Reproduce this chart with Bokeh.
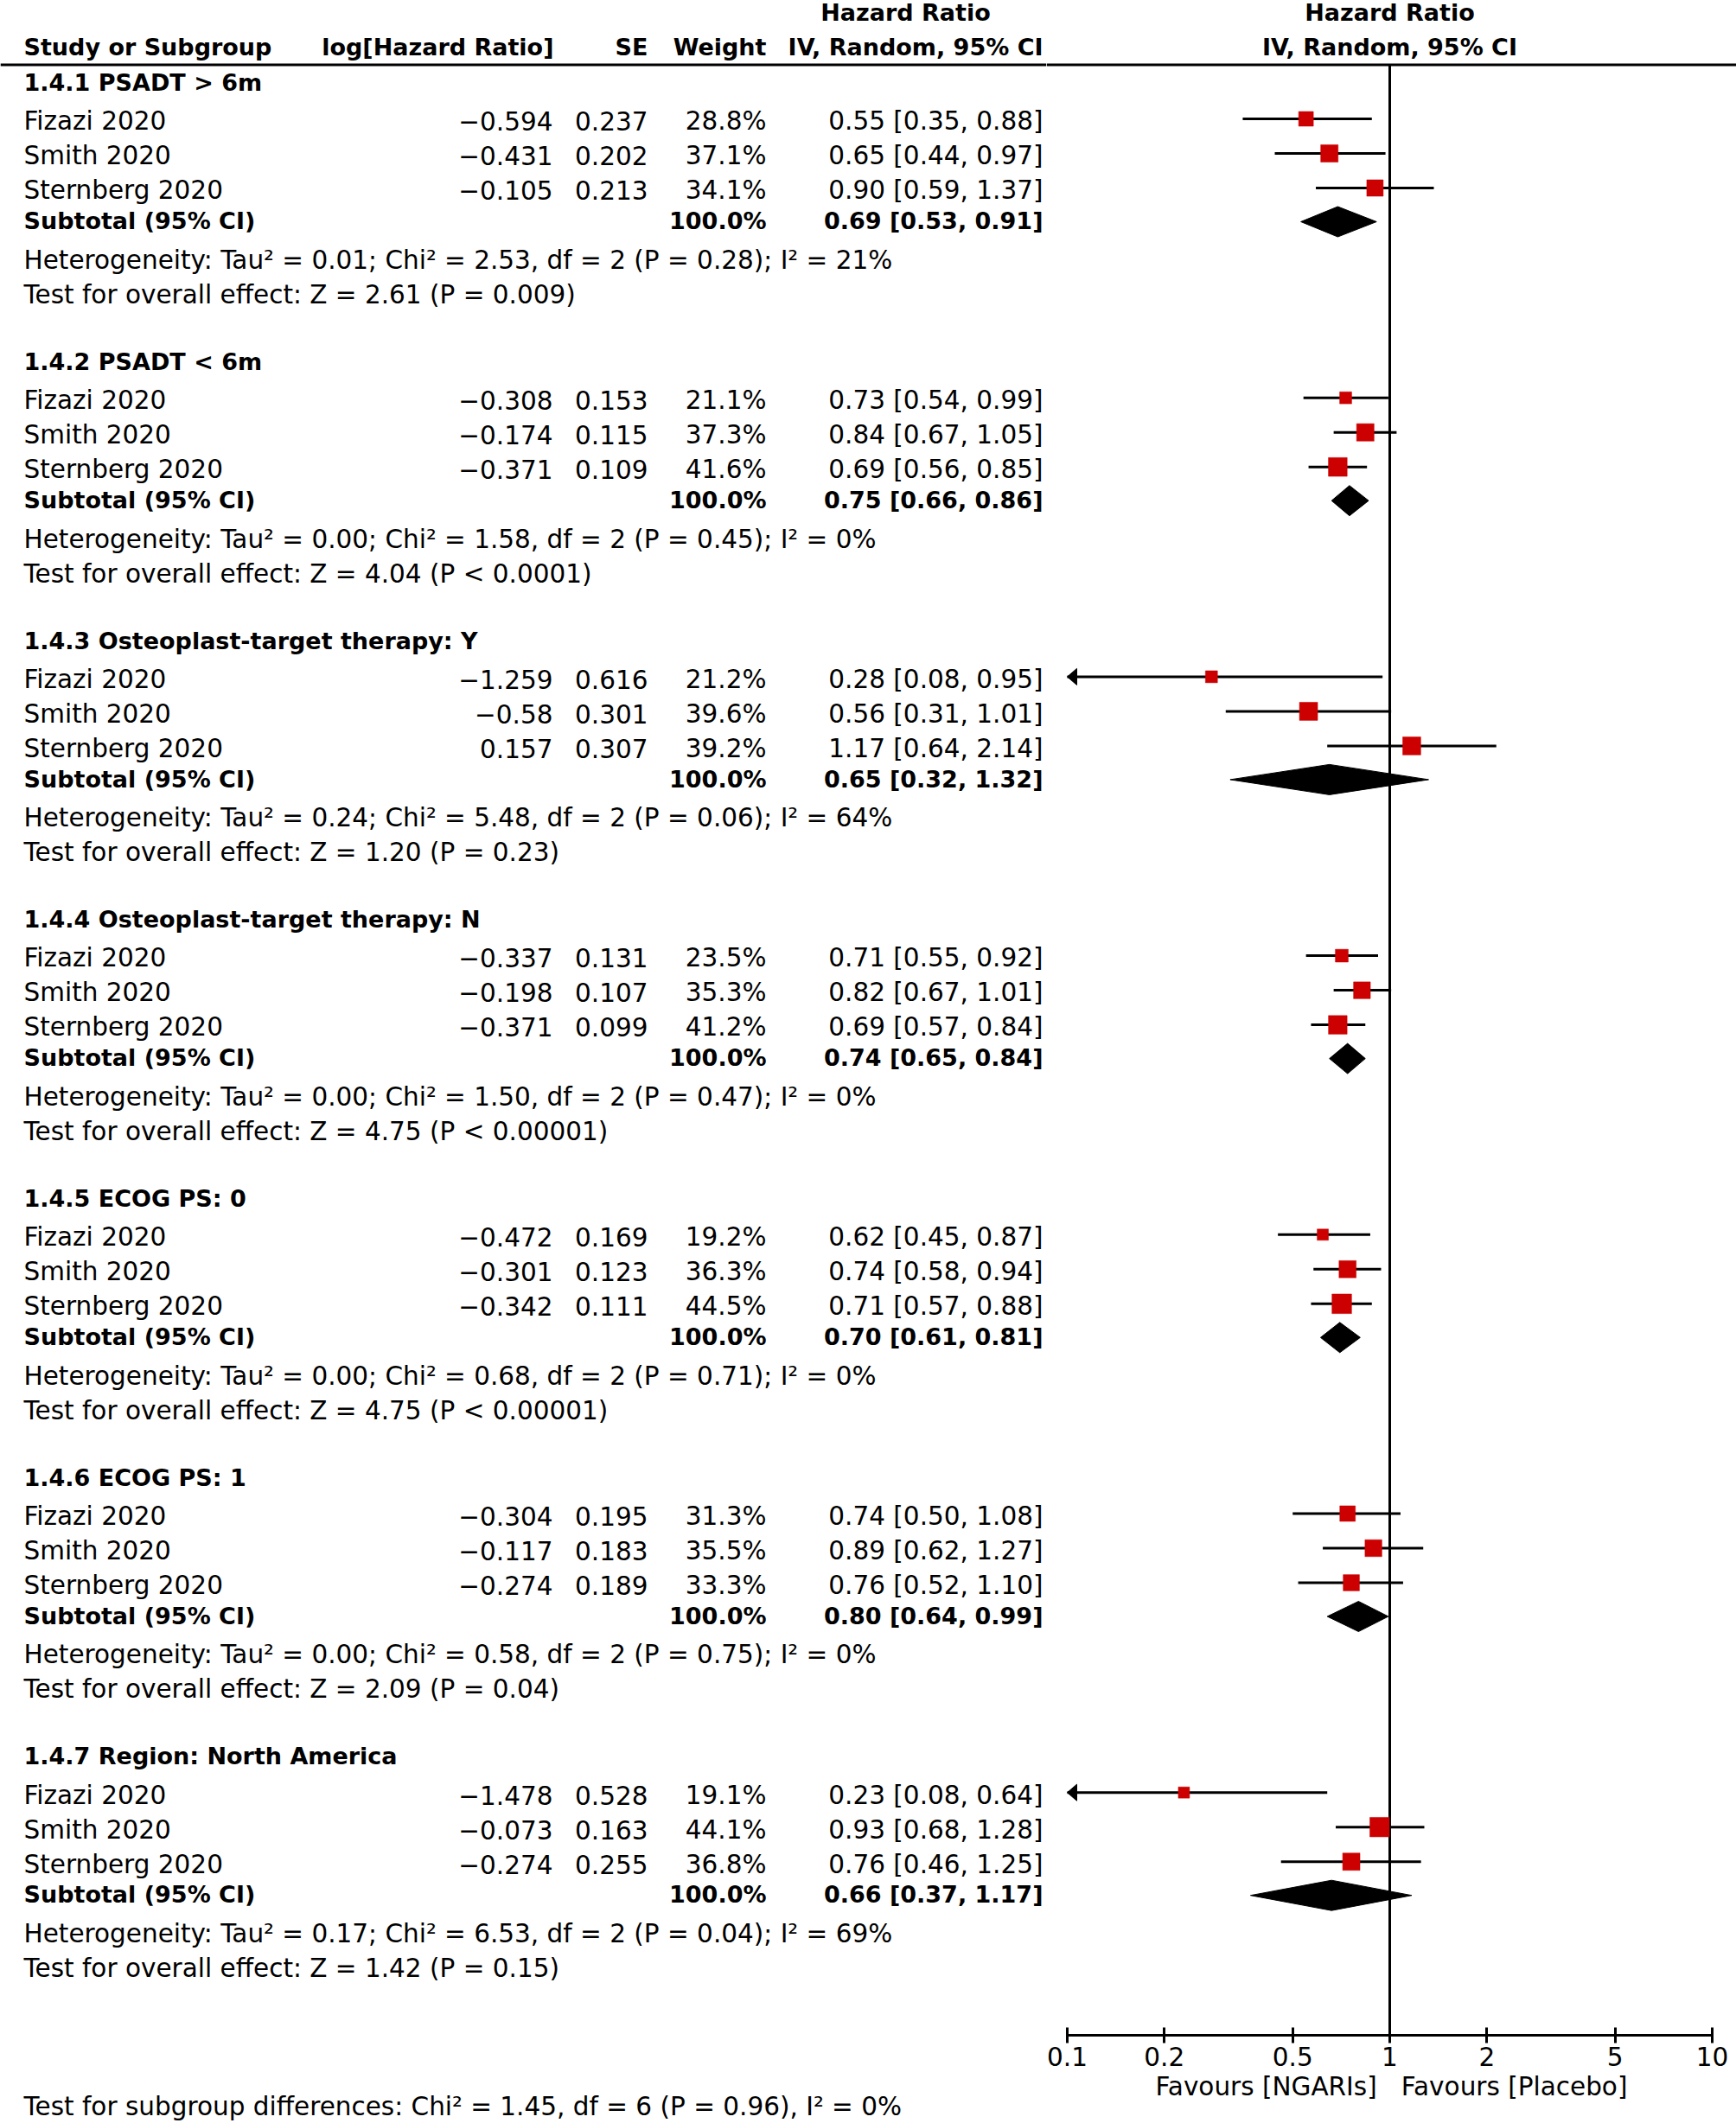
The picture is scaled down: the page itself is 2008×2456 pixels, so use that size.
import math
from bokeh.plotting import figure
from bokeh.layouts import row
from bokeh.models import Range1d, ColumnDataSource, FixedTicker, NumeralTickFormatter
from bokeh.core.properties import value
from bokeh.embed import file_html
from bokeh.resources import INLINE

# ---------------- data ----------------
subgroups = ["1.4.1 PSADT > 6m", "1.4.2 PSADT < 6m", "1.4.3 Osteoplast-target therapy: Y",
             "1.4.4 Osteoplast-target therapy: N", "1.4.5 ECOG PS: 0", "1.4.6 ECOG PS: 1",
             "1.4.7 Region: North America"]
studies = ["Fizazi 2020", "Smith 2020", "Sternberg 2020"]
log_hr = [[-0.594, -0.431, -0.105], [-0.308, -0.174, -0.371], [-1.259, -0.58, 0.157],
          [-0.337, -0.198, -0.371], [-0.472, -0.301, -0.342], [-0.304, -0.117, -0.274],
          [-1.478, -0.073, -0.274]]
se = [[0.237, 0.202, 0.213], [0.153, 0.115, 0.109], [0.616, 0.301, 0.307],
      [0.131, 0.107, 0.099], [0.169, 0.123, 0.111], [0.195, 0.183, 0.189],
      [0.528, 0.163, 0.255]]
weight = [[28.8, 37.1, 34.1], [21.1, 37.3, 41.6], [21.2, 39.6, 39.2], [23.5, 35.3, 41.2],
          [19.2, 36.3, 44.5], [31.3, 35.5, 33.3], [19.1, 44.1, 36.8]]
hr = [[0.55, 0.65, 0.90], [0.73, 0.84, 0.69], [0.28, 0.56, 1.17], [0.71, 0.82, 0.69],
      [0.62, 0.74, 0.71], [0.74, 0.89, 0.76], [0.23, 0.93, 0.76]]
ci_lo = [[0.35, 0.44, 0.59], [0.54, 0.67, 0.56], [0.08, 0.31, 0.64], [0.55, 0.67, 0.57],
         [0.45, 0.58, 0.57], [0.50, 0.62, 0.52], [0.08, 0.68, 0.46]]
ci_hi = [[0.88, 0.97, 1.37], [0.99, 1.05, 0.85], [0.95, 1.01, 2.14], [0.92, 1.01, 0.84],
         [0.87, 0.94, 0.88], [1.08, 1.27, 1.10], [0.64, 1.28, 1.25]]
sub_weight = [100.0, 100.0, 100.0, 100.0, 100.0, 100.0, 100.0]
sub_hr = [0.69, 0.75, 0.65, 0.74, 0.70, 0.80, 0.66]
sub_lo = [0.53, 0.66, 0.32, 0.65, 0.61, 0.64, 0.37]
sub_hi = [0.91, 0.86, 1.32, 0.84, 0.81, 0.99, 1.17]
tau2 = ["0.01", "0.00", "0.24", "0.00", "0.00", "0.00", "0.17"]
chi2 = ["2.53", "1.58", "5.48", "1.50", "0.68", "0.58", "6.53"]
het_df = [2, 2, 2, 2, 2, 2, 2]
het_p = ["0.28", "0.45", "0.06", "0.47", "0.71", "0.75", "0.04"]
i2 = [21, 0, 64, 0, 0, 0, 69]
z_val = ["2.61", "4.04", "1.20", "4.75", "4.75", "2.09", "1.42"]
z_p = ["= 0.009", "< 0.0001", "= 0.23", "< 0.00001", "< 0.00001", "= 0.04", "= 0.15"]
overall_text = "Test for subgroup differences: Chi\u00b2 = 1.45, df = 6 (P = 0.96), I\u00b2 = 0%"
axis_ticks = [0.1, 0.2, 0.5, 1, 2, 5, 10]
axis_min, axis_max = 0.1, 10
null_hr = 1
favours_label = "Favours [NGARIs] \u00a0\u00a0Favours [Placebo]"

# ---------------- layout / style ----------------
FONT = "DejaVu Sans"
REG_PX, BOLD_PX = 29.5, 27
REG, BOLD = f"{REG_PX}px", f"{BOLD_PX}px"
SHIFT = 0.36  # bokeh places text lower than given y by ~SHIFT*font size
RED = "#CC0000"
X_LEFT, X_LOG, X_SE, X_W, X_CI, X_HRHEAD = 27, 639, 749, 886, 1206, 1047
G0, G_STEP = 105, 322.7
OFF_STUDY = [45.5, 85.5, 125.5]
OFF_SUB, OFF_HET, OFF_TEST = 160, 206, 246
MARK_DY, DIAM_DY, DIAM_H = 13.5, 9, 17.5
HEAD_LINE_Y = 74.5
AXIS_Y = 2354
BOTTOM = 2456
SPLIT_X, RIGHT_X1 = 1210, 2008
PX_ONE, PPD = 1607, 373.0  # pixel of HR=1, pixels per decade
ARW_L, ARW_W = 11, 9.5


def fmt(v):
    return str(v).replace("-", "\u2212")


def Y(page_y):
    return -page_y


def TY(baseline, bold=False):
    fs = BOLD_PX if bold else REG_PX
    return -(baseline - SHIFT * fs)


# ---------------- left (table) figure ----------------
p1 = figure(frame_width=SPLIT_X, frame_height=BOTTOM,
            x_range=Range1d(0, SPLIT_X), y_range=Range1d(-BOTTOM, 0),
            x_axis_location=None, y_axis_location=None, toolbar_location=None,
            output_backend="svg", min_border=0, outline_line_color=None,
            background_fill_color="white", border_fill_color="white")
p1.grid.visible = False

texts = {}  # (align, bold) -> dict


def add(x, base, t, align="left", bold=False):
    d = texts.setdefault((align, bold), {"x": [], "y": [], "text": []})
    d["x"].append(x)
    d["y"].append(TY(base, bold))
    d["text"].append(t)


# headers
add(X_HRHEAD, 24, "Hazard Ratio", "center", True)
add(X_LEFT, 64, "Study or Subgroup", "left", True)
add(X_LOG + 1, 64, "log[Hazard Ratio]", "right", True)
add(X_SE, 64, "SE", "right", True)
add(X_W, 64, "Weight", "right", True)
add(X_CI, 64, "IV, Random, 95% CI", "right", True)

for g, name in enumerate(subgroups):
    b = G0 + G_STEP * g
    add(X_LEFT, b, name, "left", True)
    for i, s in enumerate(studies):
        yb = b + OFF_STUDY[i]
        add(X_LEFT, yb, s)
        add(X_LOG, yb, fmt(log_hr[g][i]), "right")
        add(X_SE, yb, fmt(se[g][i]), "right")
        add(X_W, yb, f"{weight[g][i]:.1f}%", "right")
        add(X_CI, yb, f"{hr[g][i]:.2f} [{ci_lo[g][i]:.2f}, {ci_hi[g][i]:.2f}]", "right")
    add(X_LEFT, b + OFF_SUB, "Subtotal (95% CI)", "left", True)
    add(X_W, b + OFF_SUB, f"{sub_weight[g]:.1f}%", "right", True)
    add(X_CI, b + OFF_SUB, f"{sub_hr[g]:.2f} [{sub_lo[g]:.2f}, {sub_hi[g]:.2f}]", "right", True)
    add(X_LEFT, b + OFF_HET,
        f"Heterogeneity: Tau\u00b2 = {tau2[g]}; Chi\u00b2 = {chi2[g]}, df = {het_df[g]} (P = {het_p[g]}); I\u00b2 = {i2[g]}%")
    add(X_LEFT, b + OFF_TEST, f"Test for overall effect: Z = {z_val[g]} (P {z_p[g]})")

add(X_LEFT, 2447, overall_text)

for (align, bold), d in texts.items():
    p1.text(x="x", y="y", text="text", source=ColumnDataSource(d),
            text_font=value(FONT), text_font_size=value(BOLD if bold else REG),
            text_font_style="bold" if bold else "normal",
            text_align=align, text_baseline="alphabetic", text_color="black")

p1.segment(x0=[0], y0=[Y(HEAD_LINE_Y)], x1=[SPLIT_X], y1=[Y(HEAD_LINE_Y)],
           line_color="black", line_width=3)

# ---------------- right (forest) figure ----------------
x_start = 10 ** ((SPLIT_X - PX_ONE) / PPD)
x_end = 10 ** ((RIGHT_X1 - PX_ONE) / PPD)
p2 = figure(frame_width=RIGHT_X1 - SPLIT_X, frame_height=AXIS_Y,
            x_axis_type="log", x_range=Range1d(x_start, x_end),
            y_range=Range1d(-AXIS_Y, 0), y_axis_location=None,
            toolbar_location=None, output_backend="svg", min_border=0,
            outline_line_color=None, background_fill_color="white",
            border_fill_color="white")
p2.grid.visible = False

# headers
p2.text(x=[null_hr, null_hr], y=[TY(24, True), TY(64, True)],
        text=["Hazard Ratio", "IV, Random, 95% CI"],
        text_font=value(FONT), text_font_size=value(BOLD), text_font_style="bold",
        text_align="center", text_baseline="alphabetic", text_color="black")
p2.segment(x0=[x_start], y0=[Y(HEAD_LINE_Y)], x1=[x_end], y1=[Y(HEAD_LINE_Y)],
           line_color="black", line_width=3)
# null line
p2.segment(x0=[null_hr], y0=[Y(HEAD_LINE_Y)], x1=[null_hr], y1=[Y(AXIS_Y)],
           line_color="black", line_width=3)

seg = {"x0": [], "x1": [], "y": []}
sq = {"x": [], "y": [], "size": []}
arr = {"xs": [], "ys": []}
dia = {"xs": [], "ys": []}
arrow_back = axis_min * 10 ** (ARW_L / PPD)
for g in range(len(subgroups)):
    b = G0 + G_STEP * g
    for i in range(len(studies)):
        yc = Y(b + OFF_STUDY[i] - MARK_DY)
        lo, hi = ci_lo[g][i], ci_hi[g][i]
        seg["x0"].append(max(lo, axis_min))
        seg["x1"].append(min(hi, axis_max))
        seg["y"].append(yc)
        sq["x"].append(hr[g][i])
        sq["y"].append(yc)
        sq["size"].append(1.85 * weight[g][i] ** 0.66)
        if lo < axis_min:
            arr["xs"].append([axis_min, arrow_back, arrow_back])
            arr["ys"].append([yc, yc + ARW_W, yc - ARW_W])
    yd = Y(b + OFF_SUB - DIAM_DY)
    dia["xs"].append([sub_lo[g], sub_hr[g], sub_hi[g], sub_hr[g]])
    dia["ys"].append([yd, yd + DIAM_H, yd, yd - DIAM_H])

p2.segment(x0="x0", y0="y", x1="x1", y1="y", source=ColumnDataSource(seg),
           line_color="black", line_width=3)
p2.patches(xs="xs", ys="ys", source=ColumnDataSource(arr), fill_color="black",
           line_color="black", line_width=1)
p2.scatter(x="x", y="y", size="size", marker="square", source=ColumnDataSource(sq),
           fill_color=RED, line_color=RED, line_width=0.5)
p2.patches(xs="xs", ys="ys", source=ColumnDataSource(dia), fill_color="black",
           line_color="black", line_width=1)

ax = p2.xaxis[0]
ax.ticker = FixedTicker(ticks=axis_ticks)
ax.formatter = NumeralTickFormatter(format="0.[0]")
ax.bounds = (axis_min, axis_max)
ax.axis_line_width = 3
ax.axis_line_color = "black"
ax.major_tick_line_width = 3
ax.major_tick_line_color = "black"
ax.major_tick_in = 9
ax.major_tick_out = 9
ax.minor_tick_line_color = None
ax.major_label_text_font = FONT
ax.major_label_text_font_size = REG
ax.major_label_text_color = "black"
ax.major_label_standoff = 4
ax.axis_label = favours_label
ax.axis_label_text_font = FONT
ax.axis_label_text_font_size = REG
ax.axis_label_text_font_style = "normal"
ax.axis_label_text_color = "black"
ax.axis_label_standoff = 4

layout = row(p1, p2)
open("out.html", "w").write(file_html(layout, INLINE))
